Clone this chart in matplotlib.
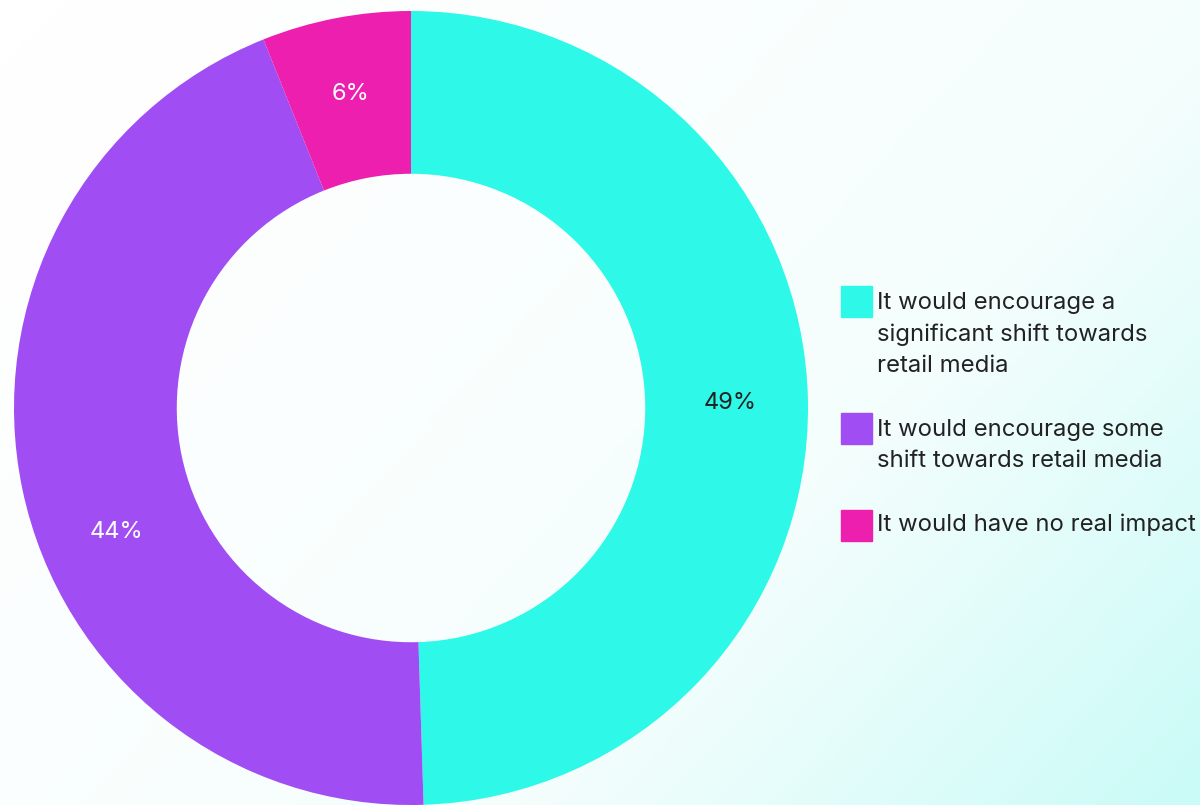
import numpy as np
import matplotlib.pyplot as plt
from matplotlib.colors import LinearSegmentedColormap
from matplotlib.patches import Rectangle

# survey answers
labels = [
    "It would encourage a\nsignificant shift towards\nretail media",
    "It would encourage some\nshift towards retail media",
    "It would have no real impact",
]
shares = [49, 44, 6]
pct_text = ["49%", "44%", "6%"]
colors = ["#2EF8E8", "#A04EF3", "#EC1FAE"]
pct_colors = ["#222222", "#FFFFFF", "#FFFFFF"]
# nudge (degrees) for the percent labels along the ring
pct_nudge = [0, 11, 0]

plt.rcParams["font.family"] = ["Inter", "DejaVu Sans"]

W, H = 1200, 805
fig = plt.figure(figsize=(W / 100, H / 100), dpi=100)

# diagonal background: white top-left -> pale cyan bottom-right
bg = fig.add_axes([0, 0, 1, 1])
gx, gy = np.meshgrid(np.linspace(0, 1, 300), np.linspace(0, 1, 200))
grad = np.clip((gx * 0.62 + gy * 0.38) ** 1.6, 0, 1)
cmap = LinearSegmentedColormap.from_list("bg", ["#FFFFFF", "#F4FEFD", "#C9FBF7"])
bg.imshow(grad, cmap=cmap, aspect="auto", extent=[0, 1, 0, 1], origin="upper")
bg.set_axis_off()

# donut
cx, cy, r = 411, 408, 397
ax = fig.add_axes([(cx - r) / W, (H - cy - r) / H, 2 * r / W, 2 * r / H])
ax.set_facecolor("none")
wedges, _ = ax.pie(
    shares, colors=colors, startangle=90, counterclock=False, radius=1,
    wedgeprops=dict(width=0.41, linewidth=0),
)
total = sum(shares)
ang = 90.0
for i, v in enumerate(shares):
    mid = np.deg2rad(ang - v / total * 360 / 2 + pct_nudge[i])
    ang -= v / total * 360
    ax.text(0.805 * np.cos(mid), 0.805 * np.sin(mid), pct_text[i],
            ha="center", va="center", fontsize=17, color=pct_colors[i])
ax.set_xlim(-1, 1)
ax.set_ylim(-1, 1)
ax.set_axis_off()

# legend drawn by hand: square aligned with first line of each label
box_tops = [286, 413, 510]
text_tops = [292, 419, 513]
for lab, col, btop, ttop in zip(labels, colors, box_tops, text_tops):
    fig.patches.append(Rectangle((841 / W, 1 - (btop + 31) / H), 31 / W, 31 / H,
                                 transform=fig.transFigure, color=col))
    fig.text(877 / W, 1 - ttop / H, lab, ha="left", va="top",
             fontsize=17.2, color="#222222", linespacing=1.53)

fig.savefig("out.png", dpi=100)
